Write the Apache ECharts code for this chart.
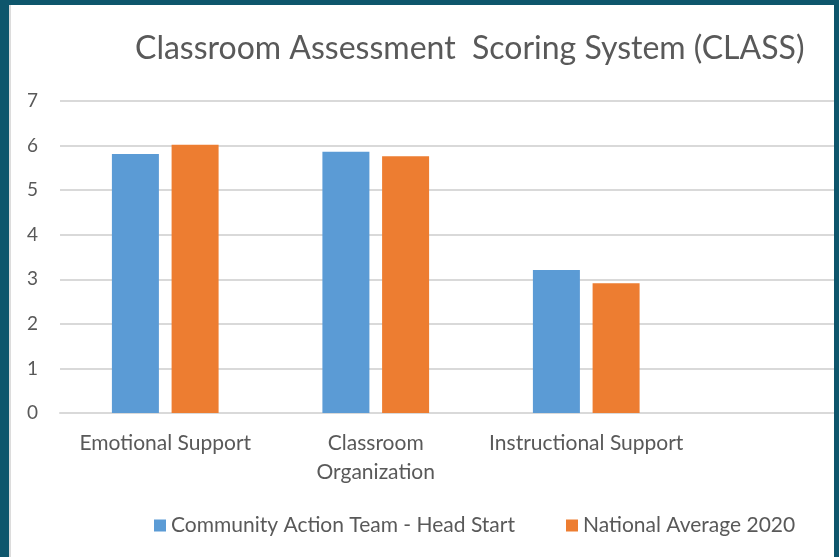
<!DOCTYPE html>
<html>
<head>
<meta charset="utf-8">
<script src="https://cdn.jsdelivr.net/npm/echarts@6/dist/echarts.min.js"></script>
<style>
  html, body { margin: 0; padding: 0; }
  body { width: 839px; height: 557px; background: #0e566c; position: relative; overflow: hidden; }
  #frame { position: absolute; left: 9px; top: 5px; width: 825px; height: 552px; background: #dcdcdc; overflow: hidden; }
  #main { position: absolute; left: 2px; top: 0; width: 900px; height: 552px; background: #fff; }
</style>
</head>
<body>
<div id="frame"><div id="main"></div></div>
<script>
var categories = ['Emotional Support', 'Classroom\nOrganization', 'Instructional Support', ''];
var seriesNames = ['Community Action Team - Head Start', 'National Average 2020'];
var headStart = [5.81, 5.86, 3.21, null];
var nationalAvg = [6.02, 5.76, 2.91, null];
var yTicks = [0, 1, 2, 3, 4, 5, 6, 7];

var chart = echarts.init(document.getElementById('main'));
var textColor = '#595959';
var font = 'Lato, "Open Sans", sans-serif';

var option = {
    animation: false,
    color: ['#5b9bd5', '#ed7d31'],
    title: {
        text: 'Classroom Assessment  Scoring System (CLASS)',
        left: 124,
        top: 28,
        padding: 0,
        textStyle: { fontFamily: font, fontSize: 32, fontWeight: 'normal', color: textColor }
    },
    legend: {
        data: seriesNames,
        left: 138,
        top: 505,
        icon: 'rect',
        itemWidth: 12,
        itemHeight: 12,
        itemGap: 51,
        textStyle: { fontFamily: font, fontSize: 21, color: textColor }
    },
    grid: {
        left: 49,
        top: 96,
        width: 842,
        height: 312
    },
    xAxis: {
        type: 'category',
        data: categories,
        axisLine: { lineStyle: { color: '#d9d9d9', width: 2 } },
        axisTick: { show: false },
        axisLabel: {
            interval: 0,
            margin: 16,
            fontFamily: font,
            fontSize: 21,
            lineHeight: 29,
            color: textColor
        }
    },
    yAxis: {
        type: 'value',
        min: yTicks[0],
        max: yTicks[yTicks.length - 1],
        interval: 1,
        axisLine: { show: false },
        axisTick: { show: false },
        splitLine: { lineStyle: { color: '#d9d9d9', width: 2 } },
        axisLabel: { margin: 22, fontFamily: font, fontSize: 19, color: textColor }
    },
    series: [
        {
            name: seriesNames[0],
            type: 'bar',
            data: headStart,
            barWidth: 47,
            barGap: '27%'
        },
        {
            name: seriesNames[1],
            type: 'bar',
            data: nationalAvg,
            barWidth: 47
        }
    ]
};
chart.setOption(option);
window.onresize = chart.resize;
</script>
</body>
</html>
